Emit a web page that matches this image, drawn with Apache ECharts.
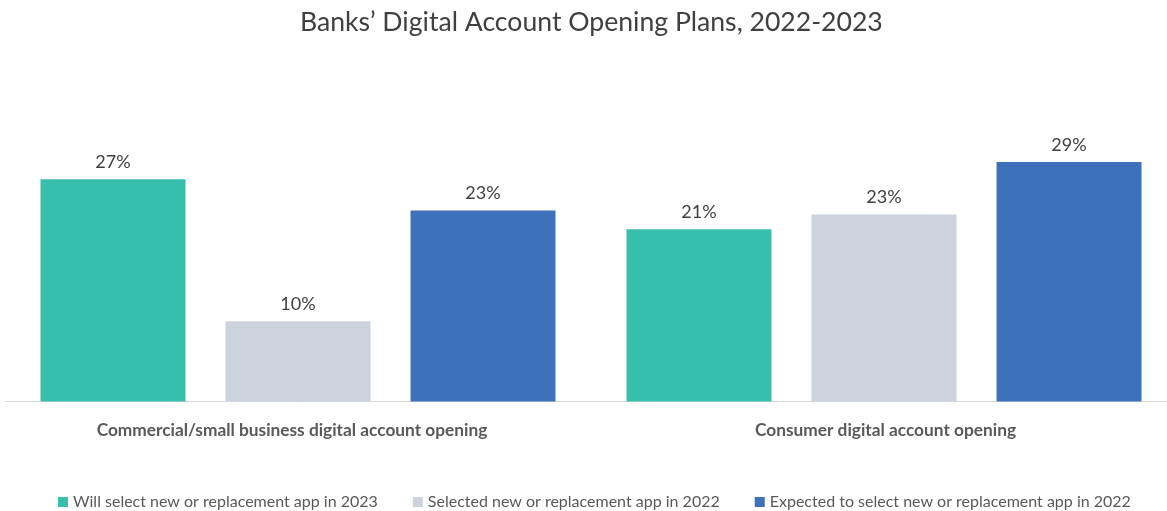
<!DOCTYPE html>
<html>
<head>
<meta charset="utf-8">
<script src="https://cdn.jsdelivr.net/npm/echarts@6/dist/echarts.min.js"></script>
<style>
html,body{margin:0;padding:0;background:#fff;overflow:hidden;}
#chart{width:1177px;height:511px;}
</style>
</head>
<body>
<div id="chart"></div>
<script>
const categories = ['Commercial/small business digital account opening', 'Consumer digital account opening'];
const seriesNames = ['Will select new or replacement app in 2023', 'Selected new or replacement app in 2022', 'Expected to select new or replacement app in 2022'];
const will2023 = [27.1, 21.0];
const selected2022 = [9.8, 22.8];
const expected2022 = [23.3, 29.2];
const colors = ['#38BEAD', '#CCD3DD', '#3D72BB'];

const chart = echarts.init(document.getElementById('chart'));
const values = [will2023, selected2022, expected2022];
const series = seriesNames.map((name, i) => ({
  name: name,
  type: 'bar',
  data: values[i],
  barWidth: 145,
  barGap: '27.6%',
  itemStyle: { color: colors[i] },
  label: {
    show: true,
    position: 'top',
    distance: 8,
    fontFamily: 'Lato',
    fontSize: 18,
    color: '#404040',
    formatter: p => Math.round(p.value) + '%'
  }
}));

const labelPads = [[0, 12, 0, 0], [0, 0, 0, 3]];
const categoryData = categories.map((c, i) => ({ value: c, textStyle: { padding: labelPads[i] } }));

chart.setOption({
  animation: false,
  title: {
    text: 'Banks\u2019 Digital Account Opening Plans, 2022-2023',
    left: 295,
    top: 4,
    textStyle: { fontFamily: 'Lato', fontSize: 26.6, fontWeight: 'normal', color: '#404040' }
  },
  legend: {
    top: 489,
    left: 53,
    icon: 'rect',
    itemWidth: 10,
    itemHeight: 10,
    itemGap: 35,
    textStyle: { fontFamily: 'Lato', fontSize: 16, color: '#595959' },
    data: seriesNames
  },
  grid: { left: 5, right: 0, top: 114.5, bottom: 109.5, containLabel: false, outerBoundsMode: 'none' },
  xAxis: {
    type: 'category',
    data: categoryData,
    axisLine: { lineStyle: { color: '#D9D9D9', width: 1 } },
    axisTick: { show: false },
    axisLabel: { fontFamily: 'Lato', fontSize: 17.3, fontWeight: 'bold', color: '#595959', margin: 20 }
  },
  yAxis: {
    type: 'value',
    min: 0,
    max: 35,
    show: false
  },
  series: series
});
</script>
</body>
</html>
